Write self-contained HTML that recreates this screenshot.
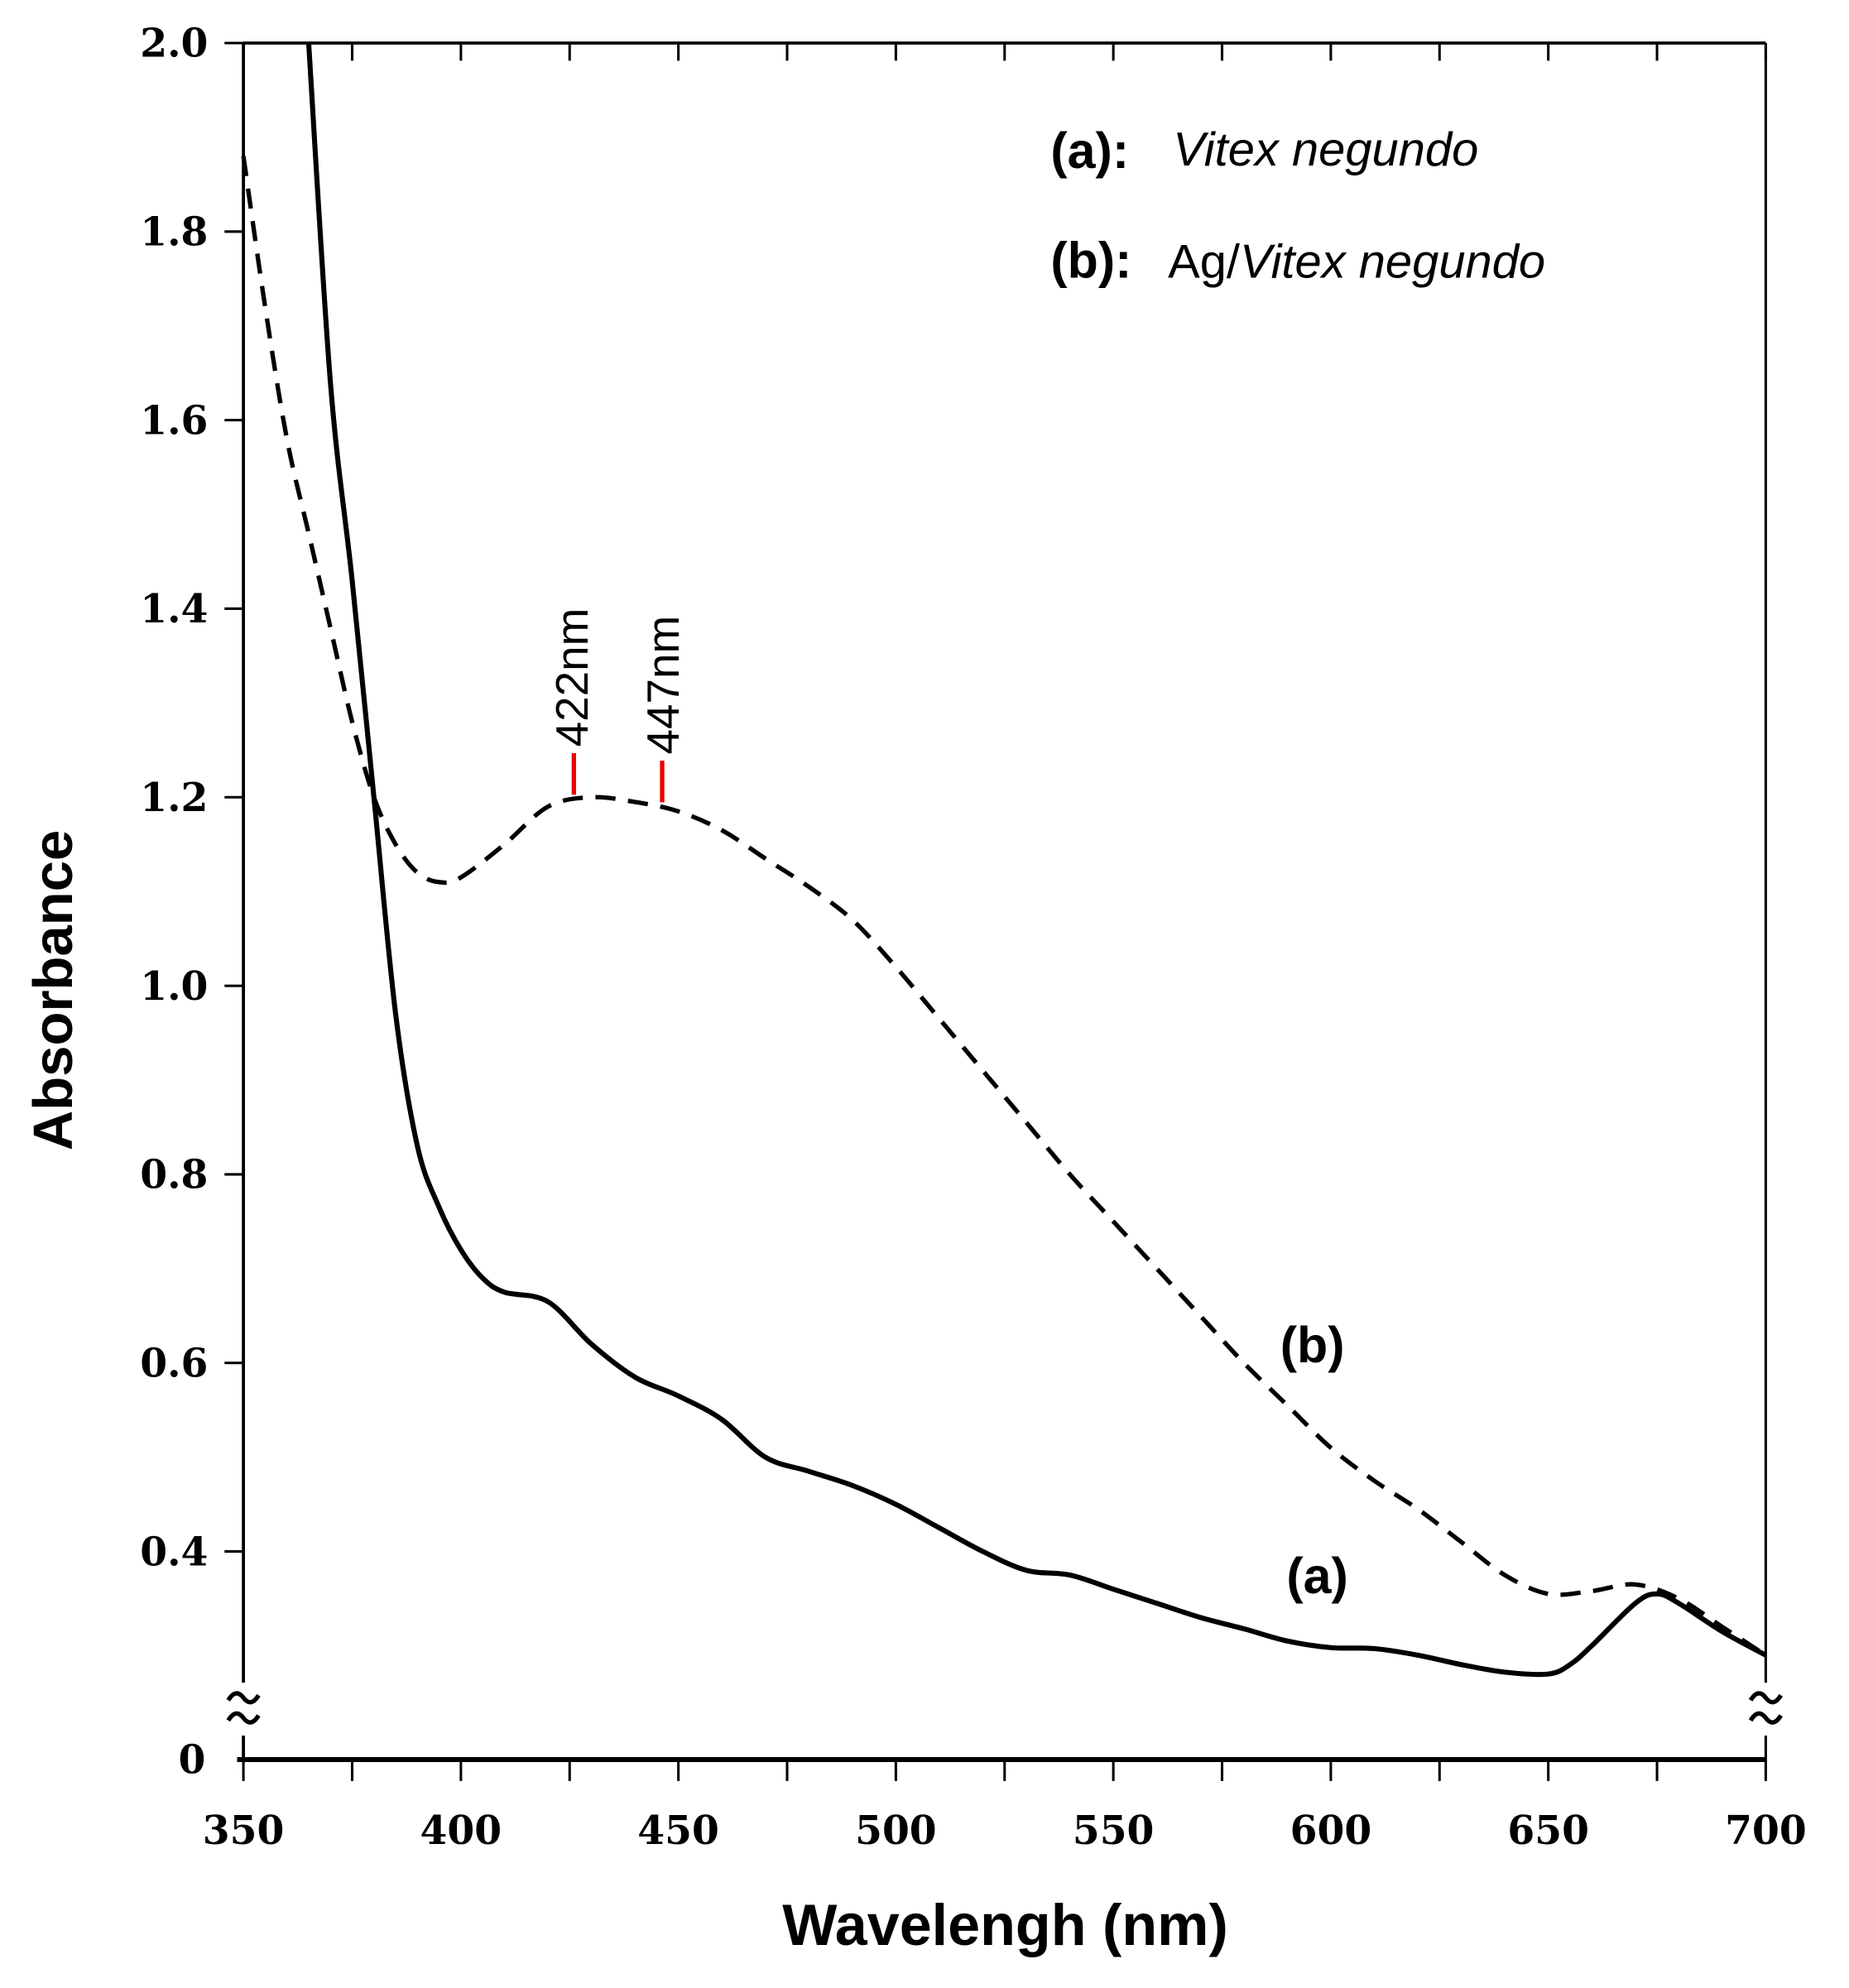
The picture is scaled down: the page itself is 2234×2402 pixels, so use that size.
<!DOCTYPE html>
<html><head><meta charset="utf-8"><style>
html,body{margin:0;padding:0;background:#fff;}
svg{display:block;}
.tick{font-family:"DejaVu Serif","Liberation Serif",serif;font-size:31px;font-weight:bold;fill:#000;}
.nar{font-family:"Liberation Sans Narrow","Liberation Sans",sans-serif;}
</style></head><body>
<svg id="chart" width="2234" height="2402" viewBox="0 0 1466 1576" xmlns="http://www.w3.org/2000/svg">
<g id="axes"></g>
<g id="series"></g>
<text class="nar" x="833" y="133" font-size="40" font-weight="bold">(a):</text>
<text class="nar" x="930" y="131" font-size="38" font-style="italic">Vitex negundo</text>
<text class="nar" x="833" y="220" font-size="40" font-weight="bold">(b):</text>
<text class="nar" x="926" y="220" font-size="38">Ag/<tspan font-style="italic">Vitex negundo</tspan></text>
<text class="nar" x="1015" y="1080" font-size="40" font-weight="bold">(b)</text>
<text class="nar" x="1020" y="1263" font-size="40" font-weight="bold">(a)</text>
<text class="nar" transform="translate(466,592) rotate(-90)" font-size="36">422nm</text>
<text class="nar" transform="translate(538,598) rotate(-90)" font-size="36">447nm</text>
<line x1="455" y1="597" x2="455" y2="630" stroke="#e00" stroke-width="3.5"/>
<line x1="525" y1="603" x2="525" y2="636" stroke="#e00" stroke-width="3.5"/>
<text class="nar" x="797" y="1542" font-size="46" font-weight="bold" text-anchor="middle">Wavelengh (nm)</text>
<text class="nar" transform="translate(57,785) rotate(-90)" font-size="44" font-weight="bold" text-anchor="middle">Absorbance</text>
</svg>
<script>
const xTicks=[350,400,450,500,550,600,650,700];
const yTicks=[0.4,0.6,0.8,1.0,1.2,1.4,1.6,1.8,2.0];
const wavelengthsA=[365,370,375,380,385,390,395,400,405,410,420,430,440,450,460,470,480,490,500,510,520,530,540,550,560,570,580,590,600,610,620,630,640,650,655,660,670,675,680,690,700];
const absorbA=[2.0,1.64,1.43,1.2,0.97,0.83,0.765,0.72,0.69,0.675,0.665,0.62,0.585,0.565,0.54,0.5,0.485,0.47,0.45,0.425,0.4,0.38,0.375,0.36,0.345,0.33,0.318,0.305,0.298,0.297,0.29,0.28,0.272,0.27,0.28,0.3,0.345,0.355,0.345,0.315,0.29];
const wavelengthsB=[350,355,360,365,370,375,380,385,390,395,400,410,420,430,440,450,460,470,480,490,500,510,520,530,540,550,560,570,580,590,600,610,620,630,640,650,660,670,680,690,700];
const absorbB=[1.88,1.72,1.58,1.48,1.38,1.28,1.2,1.15,1.12,1.11,1.115,1.15,1.19,1.2,1.195,1.185,1.165,1.135,1.105,1.07,1.02,0.965,0.91,0.855,0.8,0.75,0.7,0.65,0.6,0.555,0.51,0.475,0.445,0.41,0.375,0.355,0.358,0.365,0.35,0.32,0.29];
const NS="http://www.w3.org/2000/svg";
const X0=193,X1=1400,Y2=34,PER=747.5,YZ=1395;
const xs=v=>X0+(v-350)/(350)*(X1-X0);
const ys=v=>Y2+(2-v)*PER;
function mk(tag,attrs,parent){const e=document.createElementNS(NS,tag);for(const k in attrs)e.setAttribute(k,attrs[k]);parent.appendChild(e);return e;}
const ax=document.getElementById('axes');
let e;
e=mk('line',{x1:X0,y1:Y2,x2:X1,y2:Y2,stroke:'#000','stroke-width':2.5},ax);


e=mk('line',{x1:X0,y1:Y2,x2:X0,y2:YZ,stroke:'#000','stroke-width':2.5},ax);


e=mk('line',{x1:X1,y1:Y2,x2:X1,y2:YZ,stroke:'#000','stroke-width':2},ax);


e=mk('line',{x1:X0-5,y1:YZ,x2:X1,y2:YZ,stroke:'#000','stroke-width':4},ax);


for(let w=350;w<=700;w+=25){
  const x=xs(w);
  e=mk('line',{x1:x,y1:YZ,x2:x,y2:YZ+17,stroke:'#000','stroke-width':2},ax);
  
  
  e=mk('line',{x1:x,y1:Y2,x2:x,y2:Y2+14,stroke:'#000','stroke-width':2},ax);
  
  
}
xTicks.forEach(w=>{
  e=mk('text',{x:xs(w),y:1462,'text-anchor':'middle',class:'tick'},ax);e.textContent=w;
  
  
});
yTicks.forEach(v=>{
  const y=ys(v);
  e=mk('line',{x1:X0-15,y1:y,x2:X0,y2:y,stroke:'#000','stroke-width':2},ax);
  
  
  e=mk('text',{x:X0-28,y:y+11,'text-anchor':'end',class:'tick'},ax);e.textContent=v.toFixed(1);
  
  
});
e=mk('text',{x:163,y:YZ+11,'text-anchor':'end',class:'tick'},ax);e.textContent='0';


[X0,X1].forEach(x=>{
  e=mk('rect',{x:x-14,y:1334,width:28,height:42,fill:'#fff'},ax);
  
  
  e=mk('path',{d:`M${x-12},${1348} q6,-10 12,-2 t12,-2 M${x-12},${1364} q6,-10 12,-2 t12,-2`,fill:'none',stroke:'#000','stroke-width':3.5},ax);
  
  
});
function smooth(xsArr,ysArr){
  const p=xsArr.map((w,i)=>[xs(w),ys(ysArr[i])]);
  let d=`M${p[0][0]},${p[0][1]}`;
  for(let i=0;i<p.length-1;i++){
    const p0=p[i-1]||p[i],p1=p[i],p2=p[i+1],p3=p[i+2]||p2;
    const c1=[p1[0]+(p2[0]-p0[0])/6,p1[1]+(p2[1]-p0[1])/6];
    const c2=[p2[0]-(p3[0]-p1[0])/6,p2[1]-(p3[1]-p1[1])/6];
    d+=` C${c1[0]},${c1[1]} ${c2[0]},${c2[1]} ${p2[0]},${p2[1]}`;
  }
  return d;
}
const sg=document.getElementById('series');
e=mk('path',{d:smooth(wavelengthsB,absorbB),fill:'none',stroke:'#000','stroke-width':3.5,'stroke-dasharray':'16,10'},sg);


e=mk('path',{d:smooth(wavelengthsA,absorbA),fill:'none',stroke:'#000','stroke-width':4},sg);


</script>
</body></html>
